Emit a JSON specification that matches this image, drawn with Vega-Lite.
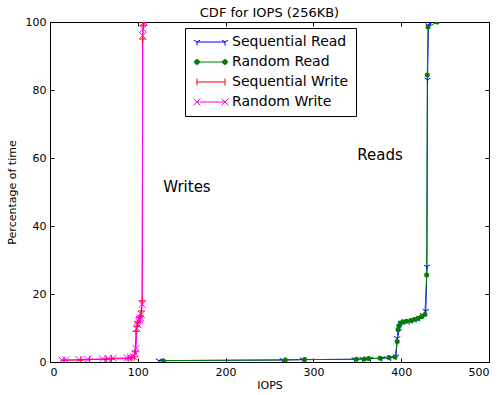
{
  "$schema": "https://vega.github.io/schema/vega-lite/v6.json",
  "width": 439,
  "height": 340,
  "autosize": "none",
  "padding": {"left": 50, "top": 22, "right": 11, "bottom": 33},
  "background": "white",
  "config": {
    "font": "DejaVu Sans",
    "view": {"stroke": "black", "strokeWidth": 1},
    "axis": {"labelFont": "DejaVu Sans", "labelFontSize": 11, "labelColor": "black", "titleFont": "DejaVu Sans", "titleFontSize": 11, "titleFontWeight": "normal", "titleColor": "black", "domain": false, "grid": false, "tickColor": "black", "tickSize": -4, "labelPadding": 8}
  },
  "title": {"text": "CDF for IOPS (256KB)", "fontSize": 13, "font": "DejaVu Sans", "fontWeight": "normal", "color": "black", "offset": 4, "dy": 8},
  "resolve": {"axis": {"x": "independent", "y": "independent"}},
  "datasets": {
    "cdf": [
      {"series": "Sequential Read", "iops": 124, "pct": 0.4},
      {"series": "Sequential Read", "iops": 265, "pct": 0.6},
      {"series": "Sequential Read", "iops": 288, "pct": 0.7},
      {"series": "Sequential Read", "iops": 347, "pct": 0.8},
      {"series": "Sequential Read", "iops": 356, "pct": 0.9},
      {"series": "Sequential Read", "iops": 365, "pct": 1.0},
      {"series": "Sequential Read", "iops": 378, "pct": 1.1},
      {"series": "Sequential Read", "iops": 388, "pct": 1.3},
      {"series": "Sequential Read", "iops": 394, "pct": 1.6},
      {"series": "Sequential Read", "iops": 395.5, "pct": 7},
      {"series": "Sequential Read", "iops": 397, "pct": 9},
      {"series": "Sequential Read", "iops": 398, "pct": 10.5},
      {"series": "Sequential Read", "iops": 400, "pct": 11.5},
      {"series": "Sequential Read", "iops": 404, "pct": 12},
      {"series": "Sequential Read", "iops": 409, "pct": 12},
      {"series": "Sequential Read", "iops": 413, "pct": 12.3},
      {"series": "Sequential Read", "iops": 417, "pct": 12.6},
      {"series": "Sequential Read", "iops": 421, "pct": 13},
      {"series": "Sequential Read", "iops": 425, "pct": 13.8},
      {"series": "Sequential Read", "iops": 428, "pct": 15},
      {"series": "Sequential Read", "iops": 429.3, "pct": 28},
      {"series": "Sequential Read", "iops": 430, "pct": 83},
      {"series": "Sequential Read", "iops": 431, "pct": 99},
      {"series": "Sequential Read", "iops": 433, "pct": 100},
      {"series": "Random Read", "iops": 129, "pct": 0.4},
      {"series": "Random Read", "iops": 268, "pct": 0.6},
      {"series": "Random Read", "iops": 290, "pct": 0.7},
      {"series": "Random Read", "iops": 349, "pct": 0.8},
      {"series": "Random Read", "iops": 358, "pct": 0.9},
      {"series": "Random Read", "iops": 363, "pct": 1.0},
      {"series": "Random Read", "iops": 376, "pct": 1.1},
      {"series": "Random Read", "iops": 386, "pct": 1.3},
      {"series": "Random Read", "iops": 393, "pct": 1.5},
      {"series": "Random Read", "iops": 395.5, "pct": 6},
      {"series": "Random Read", "iops": 396.5, "pct": 9.5},
      {"series": "Random Read", "iops": 397.5, "pct": 10.5},
      {"series": "Random Read", "iops": 399, "pct": 11.5},
      {"series": "Random Read", "iops": 402, "pct": 11.8},
      {"series": "Random Read", "iops": 406, "pct": 12},
      {"series": "Random Read", "iops": 411, "pct": 12.2},
      {"series": "Random Read", "iops": 415, "pct": 12.5},
      {"series": "Random Read", "iops": 419, "pct": 12.8},
      {"series": "Random Read", "iops": 423, "pct": 13.3},
      {"series": "Random Read", "iops": 427, "pct": 14},
      {"series": "Random Read", "iops": 429, "pct": 25.6},
      {"series": "Random Read", "iops": 429.7, "pct": 84.4},
      {"series": "Random Read", "iops": 430.5, "pct": 98.5},
      {"series": "Random Read", "iops": 441, "pct": 100},
      {"series": "Sequential Write", "iops": 16, "pct": 0.5},
      {"series": "Sequential Write", "iops": 35, "pct": 0.6},
      {"series": "Sequential Write", "iops": 45, "pct": 0.7},
      {"series": "Sequential Write", "iops": 64, "pct": 0.8},
      {"series": "Sequential Write", "iops": 70, "pct": 0.9},
      {"series": "Sequential Write", "iops": 89, "pct": 1.0},
      {"series": "Sequential Write", "iops": 93, "pct": 1.2},
      {"series": "Sequential Write", "iops": 96, "pct": 1.5},
      {"series": "Sequential Write", "iops": 97, "pct": 3},
      {"series": "Sequential Write", "iops": 98, "pct": 9},
      {"series": "Sequential Write", "iops": 99, "pct": 10.5},
      {"series": "Sequential Write", "iops": 100, "pct": 11.5},
      {"series": "Sequential Write", "iops": 101, "pct": 12},
      {"series": "Sequential Write", "iops": 102, "pct": 13},
      {"series": "Sequential Write", "iops": 103, "pct": 13.5},
      {"series": "Sequential Write", "iops": 104, "pct": 15},
      {"series": "Sequential Write", "iops": 105, "pct": 18},
      {"series": "Sequential Write", "iops": 105.6, "pct": 95},
      {"series": "Sequential Write", "iops": 106.2, "pct": 99},
      {"series": "Sequential Write", "iops": 107, "pct": 100},
      {"series": "Random Write", "iops": 14, "pct": 0.5},
      {"series": "Random Write", "iops": 18, "pct": 0.6},
      {"series": "Random Write", "iops": 33, "pct": 0.7},
      {"series": "Random Write", "iops": 43, "pct": 0.8},
      {"series": "Random Write", "iops": 60, "pct": 0.9},
      {"series": "Random Write", "iops": 66, "pct": 1.0},
      {"series": "Random Write", "iops": 72, "pct": 1.1},
      {"series": "Random Write", "iops": 88, "pct": 1.2},
      {"series": "Random Write", "iops": 91, "pct": 1.4},
      {"series": "Random Write", "iops": 95, "pct": 1.6},
      {"series": "Random Write", "iops": 97, "pct": 2.5},
      {"series": "Random Write", "iops": 98, "pct": 4},
      {"series": "Random Write", "iops": 99, "pct": 10},
      {"series": "Random Write", "iops": 100, "pct": 11},
      {"series": "Random Write", "iops": 101, "pct": 12},
      {"series": "Random Write", "iops": 102, "pct": 12.5},
      {"series": "Random Write", "iops": 103, "pct": 13},
      {"series": "Random Write", "iops": 104, "pct": 14},
      {"series": "Random Write", "iops": 105, "pct": 17},
      {"series": "Random Write", "iops": 105.5, "pct": 96},
      {"series": "Random Write", "iops": 106, "pct": 98},
      {"series": "Random Write", "iops": 107, "pct": 100}
    ],
    "notes": [
      {"label": "Writes", "iops": 129, "pct": 51.5},
      {"label": "Reads", "iops": 350, "pct": 61}
    ]
  },
  "layer": [
    {
      "data": {"name": "cdf"},
      "mark": {"type": "line", "strokeWidth": 1, "clip": true},
      "encoding": {
        "x": {"field": "iops", "type": "quantitative", "scale": {"domain": [0, 500], "nice": false, "zero": false}, "axis": {"title": "IOPS", "orient": "bottom", "values": [0, 100, 200, 300, 400, 500], "titlePadding": 2}},
        "y": {"field": "pct", "type": "quantitative", "scale": {"domain": [0, 100], "nice": false}, "axis": {"title": "Percentage of time", "orient": "left", "values": [0, 20, 40, 60, 80, 100], "titlePadding": 8}},
        "color": {
          "field": "series", "type": "nominal",
          "scale": {"domain": ["Sequential Read", "Random Read", "Sequential Write", "Random Write"], "range": ["#0000ff", "#007f00", "#ff0000", "#ff00ff"]},
          "legend": {
            "orient": "none", "legendX": 135, "legendY": 6, "title": null,
            "strokeColor": "black", "fillColor": "white", "padding": 7,
            "labelFont": "DejaVu Sans", "labelFontSize": 14, "labelColor": "black",
            "symbolSize": 16, "symbolOffset": 12, "labelOffset": 14, "rowPadding": 6,
            "encode": {
              "symbols": {
                "update": {
                  "shape": {"signal": "datum.value === 'Sequential Read' ? 'M-7,0H7M-7,0V1.75M-7,0L-8.5,-0.9M-7,0L-5.5,-0.9M7,0V1.75M7,0L5.5,-0.9M7,0L8.5,-0.9' : datum.value === 'Random Read' ? 'M-7,0H7M-8.2,0A1.2,1.2 0 1,0 -5.8,0A1.2,1.2 0 1,0 -8.2,0M5.8,0A1.2,1.2 0 1,0 8.2,0A1.2,1.2 0 1,0 5.8,0' : datum.value === 'Sequential Write' ? 'M-7,0H7M-7,-1.75V1.75M7,-1.75V1.75' : 'M-7,0H7M-8.75,-1.75L-5.25,1.75M-8.75,1.75L-5.25,-1.75M5.25,-1.75L8.75,1.75M5.25,1.75L8.75,-1.75'"},
                  "stroke": {"scale": "color", "field": "value"},
                  "fill": {"scale": "color", "field": "value"},
                  "strokeWidth": {"value": 1},
                  "opacity": {"value": 1}
                }
              }
            }
          }
        },
        "detail": {"field": "series"},
        "order": {"field": "iops", "type": "quantitative"}
      }
    },
    {
      "data": {"name": "cdf"},
      "transform": [{"filter": "datum.series !== 'Random Read'"}],
      "mark": {"type": "point", "filled": false, "size": 49, "strokeWidth": 1, "opacity": 1, "clip": true},
      "encoding": {
        "x": {"field": "iops", "type": "quantitative", "axis": null},
        "y": {"field": "pct", "type": "quantitative", "axis": null},
        "shape": {"field": "series", "type": "nominal", "scale": {"domain": ["Sequential Read", "Sequential Write", "Random Write"], "range": ["M0,0V1M0,0L-0.87,-0.5M0,0L0.87,-0.5", "M-1,0H1M0,-1V1", "M-1,-1L1,1M-1,1L1,-1"]}, "legend": null},
        "stroke": {"field": "series", "type": "nominal", "scale": {"domain": ["Sequential Read", "Sequential Write", "Random Write"], "range": ["#0000ff", "#ff0000", "#ff00ff"]}, "legend": null}
      }
    },
    {
      "data": {"name": "cdf"},
      "transform": [{"filter": "datum.series === 'Random Read'"}],
      "mark": {"type": "point", "shape": "circle", "filled": true, "size": 25, "color": "#007f00", "opacity": 1, "clip": true},
      "encoding": {
        "x": {"field": "iops", "type": "quantitative", "axis": null},
        "y": {"field": "pct", "type": "quantitative", "axis": null}
      }
    },
    {
      "data": {"name": "notes"},
      "mark": {"type": "text", "align": "left", "baseline": "middle", "fontSize": 15, "font": "DejaVu Sans", "color": "black"},
      "encoding": {
        "x": {"field": "iops", "type": "quantitative", "axis": {"orient": "top", "labels": false, "title": null, "values": [0, 100, 200, 300, 400, 500]}},
        "y": {"field": "pct", "type": "quantitative", "axis": {"orient": "right", "labels": false, "title": null, "values": [0, 20, 40, 60, 80, 100]}},
        "text": {"field": "label"}
      }
    }
  ]
}
